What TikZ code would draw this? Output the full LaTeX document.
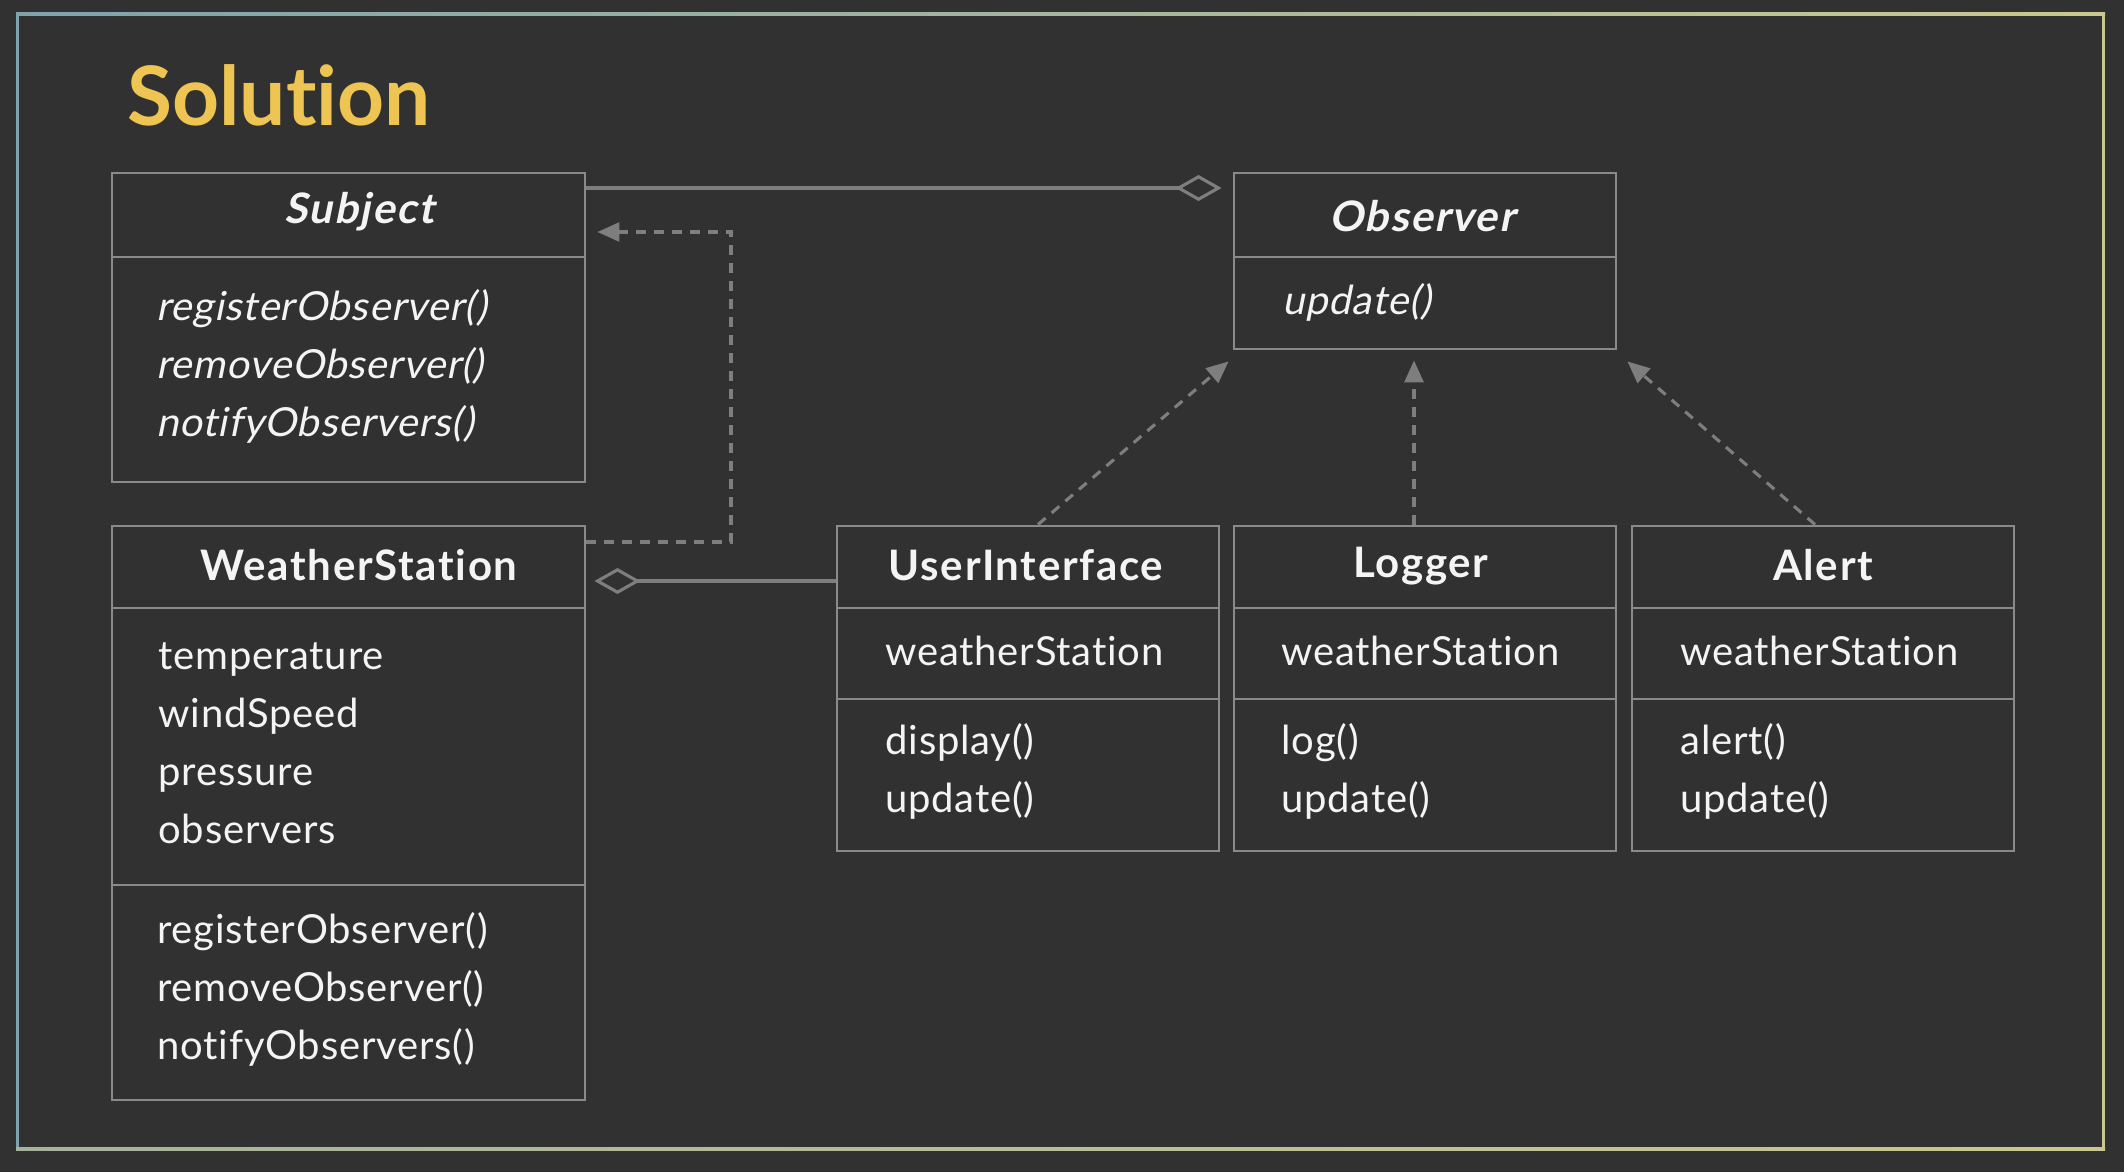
\documentclass[tikz,border=0pt]{standalone}
\usepackage{fontspec}
\setmainfont{Lato}[Ligatures=NoCommon]
\newfontfamily\bodyf{Lato}[Ligatures=NoCommon,LetterSpace=2]
\newfontfamily\bodyslf{Lato}[Ligatures=NoCommon,LetterSpace=2,FakeSlant=0.2]
\newfontfamily\hdrf{Lato}[Ligatures=NoCommon,LetterSpace=4]
\newfontfamily\hdrslf{Lato}[Ligatures=NoCommon,LetterSpace=4,FakeSlant=0.2]
\usetikzlibrary{arrows.meta,fit,calc}
\definecolor{bg}{HTML}{313131}
\definecolor{boxline}{HTML}{8A8A8A}
\definecolor{conn}{HTML}{7E7E7E}
\definecolor{fg}{HTML}{F4F4F4}
\definecolor{titlec}{HTML}{EEC552}
\definecolor{frL}{HTML}{7FA3AC}
\definecolor{frR}{HTML}{C9C98F}
\definecolor{frBL}{HTML}{A7B29C}
\begin{document}
\begin{tikzpicture}[x=0.5pt,y=-0.5pt,
  box/.style={draw=boxline,line width=1.45pt,inner sep=0pt},
  sepline/.style={draw=boxline,line width=1.45pt},
  hdr/.style={anchor=base,inner sep=0pt,text=fg,font=\hdrf\fontsize{21}{25}\selectfont\bfseries},
  ihdr/.style={anchor=base,inner sep=0pt,text=fg,font=\hdrslf\fontsize{21}{25}\selectfont\bfseries},
  mem/.style={anchor=base west,inner sep=0pt,text=fg,font=\bodyf\fontsize{20}{24}\selectfont},
  imem/.style={anchor=base west,inner sep=0pt,text=fg,font=\bodyslf\fontsize{20}{24}\selectfont},
  realize/.style={draw=conn,line width=1.55pt,dash pattern=on 5pt off 4pt,-{Triangle[length=11pt,width=9.5pt,fill=conn]}},
  agg/.style={draw=conn,line width=1.55pt,-{Diamond[open,length=23pt,width=13pt]}},
]
% background
\fill[bg] (0,0) rectangle (2124,1172);
\useasboundingbox (0,0) rectangle (2124,1172);
% frame
\shade[left color=frL,right color=frR] (16,13) rectangle (2105,16);
\fill[frL] (16,13) rectangle (19,1150);
\fill[frR] (2102,13) rectangle (2105,1150);
\shade[left color=frBL,right color=frR] (16,1147) rectangle (2105,1150);

% title
\node[anchor=base west,inner sep=0pt,text=titlec,font=\fontsize{41}{48}\selectfont\bfseries] (title) at (127,126) {Solution};

% helper coordinates
\coordinate (y188) at (0,188);
\coordinate (y581) at (0,581);
\coordinate (rz1) at (731,542);
\coordinate (rz2) at (731,232);
\coordinate (x1038) at (1038,0);
\coordinate (x1414) at (1414,0);
\coordinate (x1815) at (1815,0);

% Subject
\node[box,fit={(112,173)(585,482)}] (subj) {};
\draw[sepline] (112,257) -- (585,257);
\node[ihdr] (subjh) at (359,223) {Subject};
\node[imem] (subjm1) at (156,320) {registerObserver()};
\node[imem] (subjm2) at (156,378) {removeObserver()};
\node[imem] (subjm3) at (156,436) {notifyObservers()};

% WeatherStation
\node[box,fit={(112,526)(585,1100)}] (ws) {};
\draw[sepline] (112,608) -- (585,608);
\draw[sepline] (112,885) -- (585,885);
\node[hdr] (wsh) at (359,580) {WeatherStation};
\node[mem] (wsa1) at (158,669) {temperature};
\node[mem] (wsa2) at (158,727) {windSpeed};
\node[mem] (wsa3) at (158,785) {pressure};
\node[mem] (wsa4) at (158,843) {observers};
\node[mem] (wsm1) at (157,943) {registerObserver()};
\node[mem] (wsm2) at (157,1001) {removeObserver()};
\node[mem] (wsm3) at (157,1059) {notifyObservers()};

% Observer
\node[box,fit={(1234,173)(1616,349)}] (obs) {};
\draw[sepline] (1234,257) -- (1616,257);
\node[ihdr] (obsh) at (1422,231) {Observer};
\node[imem] (obsm1) at (1282,314) {update()};

% UserInterface
\node[box,fit={(837,526)(1219,851)}] (ui) {};
\draw[sepline] (837,608) -- (1219,608);
\draw[sepline] (837,699) -- (1219,699);
\node[hdr] (uih) at (1026,580) {UserInterface};
\node[mem] (uia1) at (885,665) {weatherStation};
\node[mem] (uim1) at (885,754) {display()};
\node[mem] (uim2) at (885,812) {update()};

% Logger
\node[box,fit={(1234,526)(1616,851)}] (lg) {};
\draw[sepline] (1234,608) -- (1616,608);
\draw[sepline] (1234,699) -- (1616,699);
\node[hdr] (lgh) at (1421,577) {Logger};
\node[mem] (lga1) at (1281,665) {weatherStation};
\node[mem] (lgm1) at (1281,754) {log()};
\node[mem] (lgm2) at (1281,812) {update()};

% Alert
\node[box,fit={(1632,526)(2014,851)}] (al) {};
\draw[sepline] (1632,608) -- (2014,608);
\draw[sepline] (1632,699) -- (2014,699);
\node[hdr] (alh) at (1823,580) {Alert};
\node[mem] (ala1) at (1680,665) {weatherStation};
\node[mem] (alm1) at (1680,754) {alert()};
\node[mem] (alm2) at (1680,812) {update()};

% connectors
\draw[agg,shorten >=5.5pt] (subj.east |- y188) -- (obs.west |- y188);
\draw[realize,shorten >=5.5pt] (ws.east |- rz1) -- (rz1) -- (rz2) -- (subj.east |- rz2);
\draw[agg,shorten >=4pt] (ui.west |- y581) -- (ws.east |- y581);
\draw[realize] (ui.north -| x1038) -- ($(obs.south west)+(-4,11)$);
\draw[realize] (lg.north -| x1414) -- ($(obs.south -| x1414)+(0,10)$);
\draw[realize] (al.north -| x1815) -- ($(obs.south east)+(10,11)$);
\end{tikzpicture}
\end{document}
